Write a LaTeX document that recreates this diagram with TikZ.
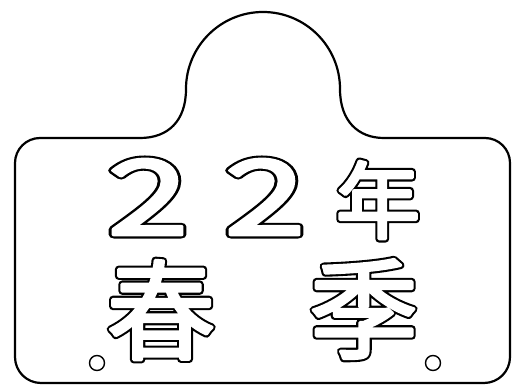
\documentclass[tikz,border=0pt]{standalone}
\usepackage{fontspec}
\newfontfamily\jp{Noto Sans CJK JP}
\newcommand\hollowtxt[1]{%
  \rlap{\special{pdf:literal direct 0 g 0 G 1 Tr 7.5 w 1 j 1 J}#1}%
  \special{pdf:literal direct 1 g 1 G 2 Tr 3.3 w 1 j 1 J}#1%
  \special{pdf:literal direct 0 g 0 G 0 Tr 1 w}}
\tikzset{
  plate/.style={line width=2.2pt, line join=round},
  hole/.style={circle, draw, line width=1.4pt, minimum size=15pt, inner sep=0pt},
  glyph/.style={inner sep=0pt, font=\jp},
}
\begin{document}
\begin{tikzpicture}[x=1pt,y=1pt]
\useasboundingbox (0,0) rectangle (519,389);
% plate outline
\draw[plate] (15,226) -- (15,32) arc[start angle=180,end angle=270,radius=26] -- (484,6)
  arc[start angle=270,end angle=360,radius=26] -- (510,226)
  arc[start angle=0,end angle=90,radius=25] -- (384,251)
  .. controls (358,251) and (340,268) .. (340,300)
  arc[start angle=0,end angle=180,radius=77]
  .. controls (186,268) and (168,251) .. (140,251)
  -- (40,251) arc[start angle=90,end angle=180,radius=25];
% holes
\node[hole] (h1) at (97,26) {};
\node[hole] (h2) at (433,26) {};
% text
\node[glyph, xscale=1.4] (d1) at (148,192) {\fontsize{104}{104}\selectfont\hollowtxt{2}};
\node[glyph, xscale=1.4] (d2) at (265,192) {\fontsize{104}{104}\selectfont\hollowtxt{2}};
\node[glyph] (nen) at (378,189) {\fontsize{84}{84}\selectfont\hollowtxt{年}};
\node[glyph] (haru) at (161,79) {\fontsize{108}{108}\selectfont\hollowtxt{春}};
\node[glyph] (ki) at (364,80) {\fontsize{108}{108}\selectfont\hollowtxt{季}};
\end{tikzpicture}
\end{document}
